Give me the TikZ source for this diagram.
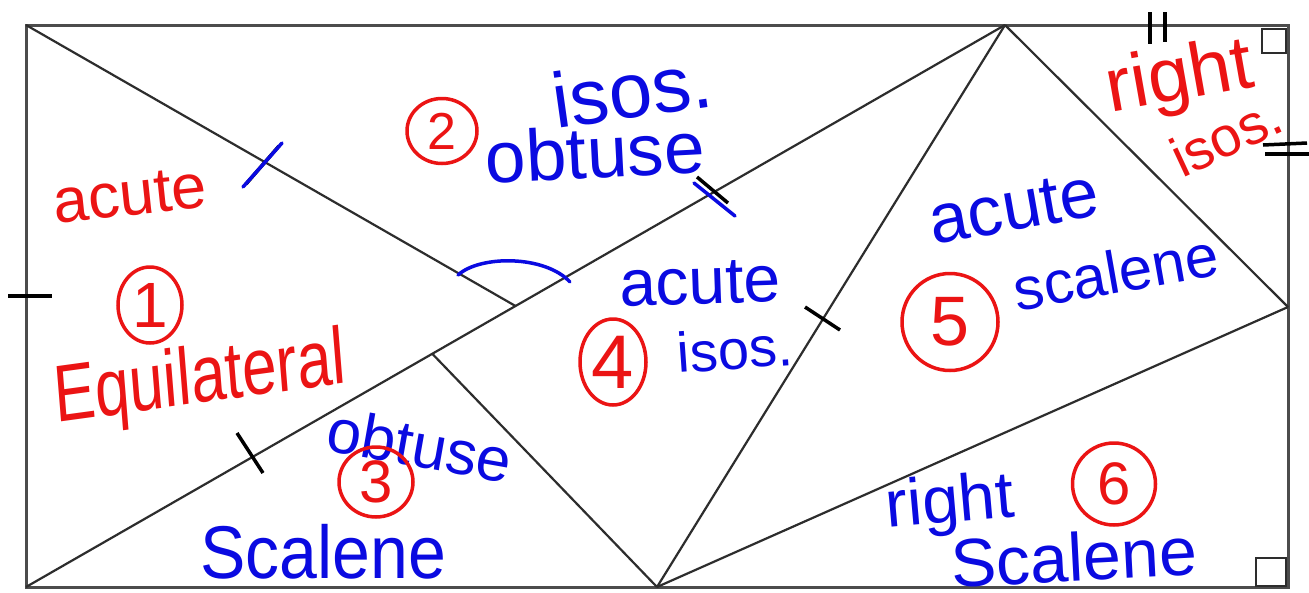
\documentclass[tikz,border=0pt]{standalone}
\usepackage{fontspec}
\setmainfont{Liberation Sans}
\usetikzlibrary{calc,shapes.geometric}
\definecolor{hred}{RGB}{235,20,20}
\definecolor{hblue}{RGB}{10,10,225}
\definecolor{lineblk}{RGB}{45,45,45}
\newcommand\hsz[1]{\fontsize{#1}{#1}\selectfont}
\tikzset{
  edge/.style={draw=lineblk, line width=2.2pt},
  frame/.style={draw=lineblk!85!white, line width=3pt},
  tickm/.style={draw=black, line width=3.5pt},
  btick/.style={draw=hblue, line width=3.5pt, line cap=round},
  rtxt/.style={text=hred, inner sep=0pt},
  btxt/.style={text=hblue, inner sep=0pt},
  circnum/.style={ellipse, draw=hred, line width=3.5pt, text=hred, inner sep=0pt},
}
\begin{document}
\begin{tikzpicture}[x=1pt,y=-1pt]
\useasboundingbox[fill=white] (0,0) rectangle (1309,592);
% vertices
\coordinate (TL) at (26,25);
\coordinate (TR) at (1288,25);
\coordinate (BR) at (1288,587);
\coordinate (BL) at (26,587);
\coordinate (T) at (1005,25);
\coordinate (R) at (1288,307);
\coordinate (B) at (657,587);
\coordinate (J1) at ($(BL)!0.5!(T)$);
\coordinate (J2) at ($(BL)!0.415!(T)$);
% frame
\draw[frame] (TL) -- (TR) -- (BR) -- (BL) -- cycle;
% internal lines
\draw[edge] (TL) -- (J1);
\draw[edge] (BL) -- (T);
\draw[edge] (J2) -- (B);
\draw[edge] (B) -- (T);
\draw[edge] (T) -- (R);
\draw[edge] (B) -- (R);
% right angle boxes
\draw[draw=lineblk, line width=2pt] (1262,29) rectangle (1286,53);
\draw[draw=lineblk, line width=2pt] (1256,558) rectangle (1286,586);
% tick marks
\draw[tickm] (8,296) -- (52,296);
\draw[tickm] (246,184) -- (279,146);
\draw[btick] (243,187) -- (282,143);
\draw[tickm] (237,433) -- (263,473);
\draw[tickm] (697,177) -- (728,203);
\draw[btick] (694,183) -- (735,216);
\draw[tickm] (805,307) -- (840,330);
\draw[tickm] (1150,12) -- (1150,44);
\draw[tickm] (1165,12) -- (1165,42);
\draw[tickm] (1263,145) -- (1307,143);
\draw[tickm] (1265,154) -- (1309,154);
% angle arc
\draw[draw=hblue, line width=3.5pt, line cap=round] (458,275) .. controls (480,255) and (545,255) .. (570,282);
% region 1
\node[rtxt, font=\hsz{63}, rotate=6] (acuteA) at (130,195) {acute};
\node[circnum, minimum width=64pt, minimum height=76pt, font=\hsz{64}] (n1) at (150,305) {1};
\node[rtxt, font=\hsz{62}, yscale=1.3, rotate=6] (equi) at (200,382) {Equilateral};
% region 2
\node[circnum, minimum width=70pt, minimum height=65pt, font=\hsz{52}] (n2) at (442,131) {2};
\node[btxt, font=\hsz{78}, rotate=8] (isosA) at (632,90) {isos.};
\node[btxt, font=\hsz{73}, rotate=3] (obtA) at (595,152) {obtuse};
% region 3
\node[btxt, font=\hsz{62}, rotate=-10] (obtB) at (420,445) {obtuse};
\node[circnum, minimum width=74pt, minimum height=70pt, font=\hsz{60}] (n3) at (376,482) {3};
\node[btxt, font=\hsz{68}, yscale=1.1] (scaA) at (323,552) {Scalene};
% region 4
\node[btxt, font=\hsz{66}, rotate=2] (acuteB) at (700,283) {acute};
\node[circnum, minimum width=66pt, minimum height=86pt, font=\hsz{76}] (n4) at (613,362) {4};
\node[btxt, font=\hsz{56}, rotate=4] (isosB) at (735,349) {isos.};
% region 5
\node[btxt, font=\hsz{70}, rotate=10] (acuteC) at (1014,208) {acute};
\node[btxt, font=\hsz{60}, rotate=10] (scaB) at (1116,272) {scalene};
\node[circnum, minimum width=96pt, minimum height=97pt, font=\hsz{70}] (n5) at (950,322) {5};
% region right isos
\node[rtxt, font=\hsz{76}, rotate=10] (rightA) at (1180,80) {right};
\node[rtxt, font=\hsz{56}, rotate=25] (isosC) at (1226,136) {isos.};
% region 6
\node[btxt, font=\hsz{66}, rotate=5] (rightB) at (950,505) {right};
\node[circnum, minimum width=83pt, minimum height=82pt, font=\hsz{60}] (n6) at (1114,484) {6};
\node[btxt, font=\hsz{68}, rotate=3] (scaC) at (1074,557) {Scalene};
\end{tikzpicture}
\end{document}
